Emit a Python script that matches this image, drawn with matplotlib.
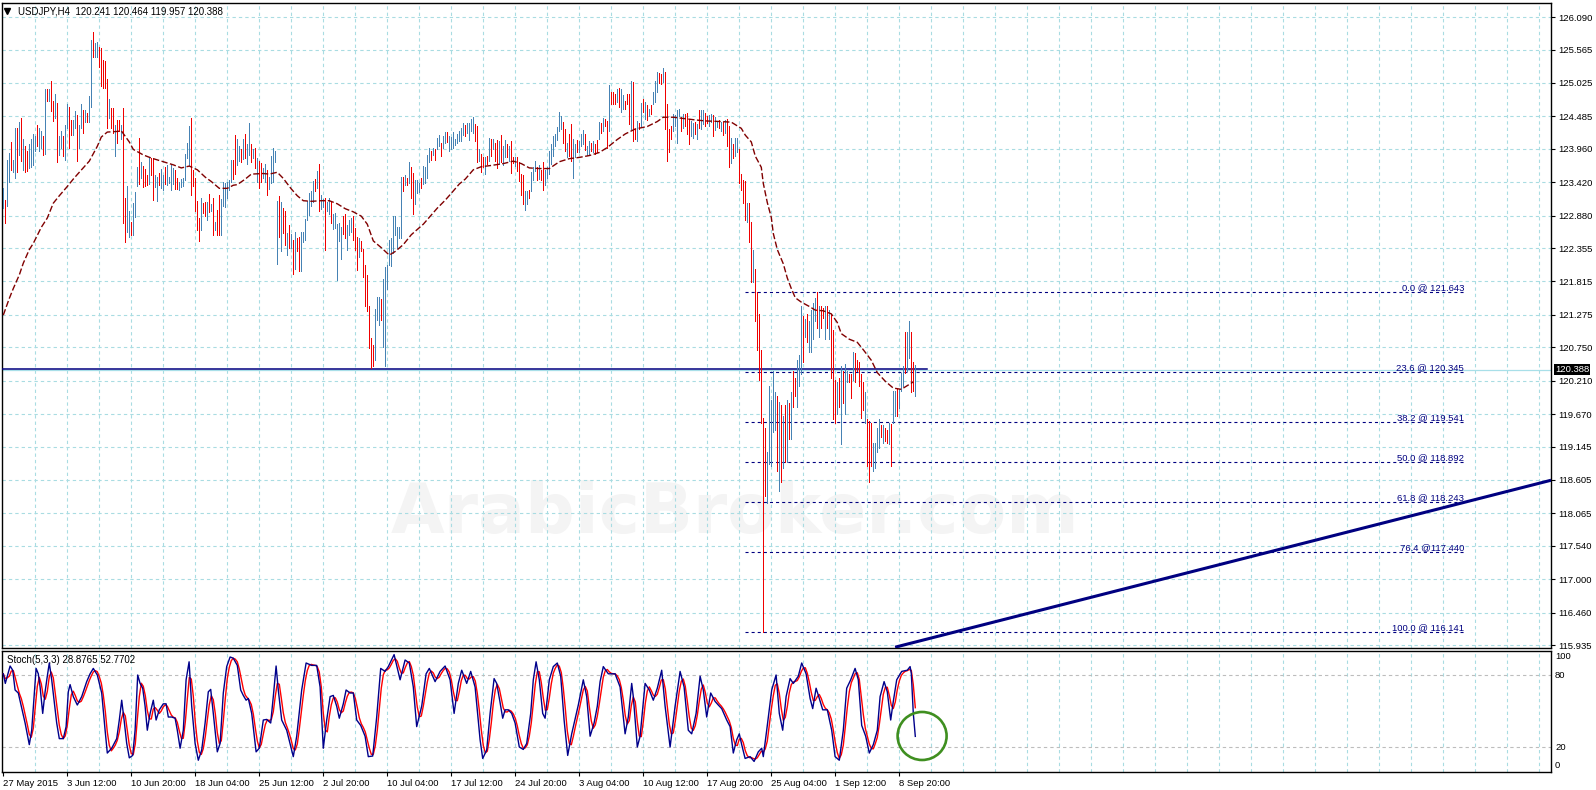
import numpy as np
import pandas as pd
import matplotlib
matplotlib.use('Agg')
import matplotlib.pyplot as plt
from matplotlib.patches import Ellipse

# ---- USDJPY H4 bars (high / low / up-bar flag) ----
bar_high = [
    123.32, 123.13, 123.78, 123.89, 124.07, 123.78, 124.30, 124.30, 124.39, 124.46,
    124.12, 124.00, 123.92, 124.04, 124.11, 124.20, 124.16, 124.35, 124.30, 124.25,
    124.16, 124.93, 124.92, 124.93, 125.06, 124.73, 124.84, 124.70, 124.16, 124.25,
    124.16, 124.35, 124.69, 124.63, 124.43, 124.43, 124.57, 124.51, 124.35, 124.69,
    124.59, 124.59, 124.54, 124.82, 125.72, 125.85, 125.67, 125.69, 125.60, 125.59,
    125.39, 125.38, 125.09, 124.76, 124.62, 124.62, 124.35, 124.43, 124.43, 124.34,
    124.62, 123.16, 123.35, 122.95, 122.77, 123.08, 123.26, 123.66, 124.13, 123.75,
    123.68, 123.64, 123.54, 123.82, 123.81, 123.81, 123.54, 123.50, 123.57, 123.64,
    123.53, 123.66, 123.69, 123.50, 123.69, 123.65, 123.61, 123.49, 123.43, 123.47,
    123.49, 123.87, 124.05, 124.32, 124.45, 123.62, 123.49, 123.11, 122.84, 123.16,
    123.08, 123.10, 123.10, 123.23, 123.06, 123.16, 122.77, 122.97, 123.22, 123.14,
    123.43, 123.40, 123.43, 123.46, 123.78, 123.78,
    124.19, 124.12, 124.00, 123.96, 124.11, 124.20, 124.03, 124.38, 124.04, 123.95,
    123.97, 123.81, 123.77, 123.73, 123.65, 123.71, 123.62, 123.50, 123.84, 123.98,
    123.93, 123.12, 123.19, 123.10, 123.01, 122.95, 122.60, 122.72, 122.58, 122.49,
    122.61, 122.51, 122.54, 122.62, 122.61, 122.83, 123.12, 123.24, 123.27, 123.44,
    123.47, 123.60, 123.71, 123.21, 123.14, 123.17, 123.10, 123.16, 123.12, 122.90,
    122.92, 122.74, 122.76, 122.70, 122.87, 122.90, 122.72, 122.81, 122.84, 122.88,
    122.68, 122.54, 122.51, 122.47, 122.34, 122.08, 121.92, 121.41, 120.90, 120.78,
    121.37, 121.57, 121.57, 121.53, 121.86, 122.05, 122.08, 122.49, 122.51, 122.87,
    122.88, 122.70, 122.70, 123.50, 123.50, 123.54, 123.49, 123.75, 123.66, 123.57,
    123.46, 123.45, 123.41, 123.49, 123.68, 123.66, 123.86, 123.98, 123.92, 123.98,
    123.95, 124.13, 124.18, 124.05, 124.16, 124.23, 124.23, 124.16, 124.15, 124.23,
    124.12, 124.20, 124.24, 124.30, 124.38,
    124.34, 124.37, 124.37, 124.44, 124.47, 124.36, 124.33, 123.96, 123.87, 123.83,
    123.82, 123.85, 124.14, 124.11, 124.12, 124.05, 124.10, 124.09, 124.18, 124.00,
    124.10, 124.03, 124.00, 124.09, 123.82, 123.82, 123.83, 123.74, 123.55, 123.53,
    123.27, 123.27, 123.29, 123.59, 123.67, 123.76, 123.67, 123.69, 123.62, 123.74,
    123.62, 123.67, 123.92, 124.03, 124.17, 124.20, 124.31, 124.56, 124.49, 124.39,
    124.28, 124.05, 124.20, 124.36, 124.11, 124.03, 124.10, 124.09, 124.20, 124.27,
    124.20, 124.01, 124.09, 124.05, 124.09, 124.03, 124.10, 124.40, 124.37, 124.45,
    124.44, 124.41, 124.99, 124.88, 124.87, 124.85, 124.92, 124.94, 124.93, 124.83,
    124.74, 124.85, 124.85, 125.05, 125.04, 124.28, 124.41, 124.37, 124.70, 124.77,
    124.71, 124.66, 124.61, 124.67, 124.88, 125.06, 125.20, 125.19, 125.17, 125.26,
    125.20, 124.68, 124.28, 124.33, 124.52, 124.50, 124.59, 124.60, 124.47, 124.52,
    124.52, 124.54, 124.44, 124.41, 124.37, 124.40, 124.36, 124.58, 124.58, 124.58,
    124.54, 124.49,
    124.50, 124.52, 124.50, 124.47, 124.40, 124.42, 124.40, 124.39, 124.42, 124.44,
    124.33, 124.13, 124.04, 124.13, 124.14, 123.95, 123.55, 123.46, 123.44, 123.09,
    123.09, 122.77, 122.33, 122.01, 121.64, 121.29, 120.71, 119.61, 119.44, 119.06,
    120.13, 119.90, 120.37, 120.02, 119.96, 119.87, 119.82, 119.64, 119.82, 119.90,
    119.85, 120.02, 120.37, 120.25, 120.54, 120.63, 121.41, 121.26, 121.20, 121.29,
    121.18, 121.35, 121.46, 121.55, 121.64, 121.41, 121.42, 121.38, 121.42, 121.41,
    121.35, 121.29, 121.03, 120.22, 120.19, 120.25, 120.45, 120.37, 120.48, 120.37,
    120.31, 120.31, 120.68, 120.66, 120.54, 120.51, 120.31, 120.19, 120.02, 119.59,
    119.56, 119.53, 119.21, 119.21, 119.44, 119.59, 119.50, 119.50, 119.44, 119.41,
    119.53, 119.51, 120.05, 120.05, 120.08, 120.08, 120.34, 120.45, 121.00, 121.00,
    121.18, 121.00, 120.51, 120.464,
]
bar_low = [
    123.00, 122.76, 123.03, 123.43, 123.62, 123.59, 123.49, 123.59, 123.86, 123.76,
    123.62, 123.59, 123.60, 123.65, 123.67, 123.70, 123.92, 124.00, 123.93, 123.97,
    123.86, 123.87, 124.73, 124.73, 124.57, 124.41, 124.46, 123.75, 123.86, 123.97,
    123.85, 123.78, 124.30, 123.98, 124.18, 124.19, 124.30, 123.77, 123.97, 124.30,
    124.22, 124.40, 124.39, 124.40, 124.63, 125.44, 125.44, 125.44, 125.28, 124.97,
    124.94, 124.94, 124.30, 124.46, 124.30, 124.22, 123.85, 124.05, 124.24, 124.11,
    122.76, 122.46, 122.62, 122.54, 122.57, 122.57, 122.85, 123.35, 123.39, 123.48,
    123.34, 123.35, 123.38, 123.39, 123.54, 123.13, 123.34, 123.12, 123.38, 123.33,
    123.30, 123.39, 123.38, 123.41, 123.30, 123.39, 123.31, 123.31, 123.30, 123.34,
    123.35, 123.46, 123.81, 123.70, 123.22, 123.35, 122.95, 122.65, 122.47, 122.65,
    122.92, 122.87, 122.81, 122.94, 122.95, 122.56, 122.65, 122.57, 122.56, 122.57,
    123.03, 123.02, 123.16, 123.30, 123.43, 123.47,
    123.55, 123.70, 123.77, 123.75, 123.80, 123.81, 123.71, 123.86, 123.75, 123.81,
    123.65, 123.43, 123.32, 123.42, 123.49, 123.42, 123.22, 123.31, 123.41, 123.43,
    123.75, 122.09, 122.54, 122.31, 122.60, 122.40, 122.25, 122.35, 122.36, 121.93,
    122.02, 122.30, 121.98, 121.99, 122.45, 122.49, 122.80, 122.89, 123.03, 123.10,
    123.27, 123.32, 122.96, 122.98, 123.02, 122.33, 122.96, 122.90, 122.76, 122.67,
    122.68, 121.84, 122.47, 122.18, 122.58, 122.52, 122.33, 122.57, 122.62, 122.49,
    122.33, 122.00, 122.21, 122.31, 121.89, 121.41, 121.33, 120.74, 120.42, 120.45,
    120.55, 121.19, 121.11, 121.19, 120.75, 120.45, 121.70, 122.08, 122.07, 122.28,
    122.57, 122.36, 122.52, 122.52, 123.28, 123.38, 123.38, 123.41, 123.16, 122.90,
    123.06, 123.25, 123.26, 123.33, 123.39, 123.41, 123.48, 123.75, 123.78, 123.86,
    123.78, 123.95, 124.00, 123.85, 123.98, 124.05, 124.07, 123.92, 123.95, 123.97,
    124.02, 124.05, 124.09, 124.08, 124.18,
    124.16, 124.22, 124.10, 124.25, 124.22, 124.09, 123.74, 123.76, 123.59, 123.67,
    123.55, 123.71, 123.76, 123.84, 123.95, 123.76, 123.65, 123.71, 123.74, 123.69,
    123.82, 123.82, 123.76, 123.57, 123.73, 123.68, 123.60, 123.44, 123.22, 123.06,
    122.97, 123.07, 123.17, 123.28, 123.46, 123.60, 123.45, 123.47, 123.46, 123.30,
    123.38, 123.49, 123.55, 123.71, 123.84, 124.01, 124.10, 124.25, 124.28, 124.05,
    123.93, 123.82, 123.85, 123.76, 123.49, 123.83, 123.90, 123.91, 124.00, 124.03,
    123.94, 123.86, 123.87, 123.93, 123.90, 123.87, 123.91, 124.12, 124.22, 124.25,
    124.32, 123.98, 124.25, 124.68, 124.69, 124.68, 124.72, 124.63, 124.55, 124.60,
    124.61, 124.68, 124.36, 124.28, 124.09, 124.12, 124.09, 124.28, 124.32, 124.55,
    124.44, 124.43, 124.49, 124.52, 124.68, 124.71, 124.88, 125.03, 125.01, 125.04,
    124.28, 123.76, 123.90, 124.12, 124.25, 124.33, 124.06, 124.49, 124.24, 124.30,
    124.32, 124.20, 124.03, 124.16, 124.14, 124.20, 124.12, 124.30, 124.28, 124.36,
    124.33, 124.37,
    124.33, 124.39, 124.16, 124.27, 124.31, 124.30, 124.24, 124.18, 124.21, 124.01,
    123.66, 123.73, 123.81, 123.84, 123.90, 123.40, 123.29, 123.09, 122.80, 122.77,
    122.45, 121.81, 121.81, 121.18, 120.71, 120.22, 119.53, 116.14, 118.34, 118.23,
    118.86, 118.83, 119.38, 119.41, 118.75, 118.43, 118.57, 118.80, 118.89, 118.89,
    119.27, 119.27, 119.79, 119.96, 119.79, 120.13, 120.31, 120.51, 120.92, 120.83,
    120.68, 120.68, 120.89, 121.18, 121.06, 120.92, 121.06, 121.23, 120.89, 121.06,
    120.89, 120.25, 119.59, 119.53, 119.67, 119.79, 119.18, 119.85, 119.67, 120.19,
    120.19, 119.93, 120.22, 120.19, 120.37, 120.13, 119.61, 119.73, 119.53, 118.83,
    118.57, 118.83, 118.75, 118.80, 119.06, 119.12, 119.30, 119.21, 119.24, 119.21,
    119.18, 118.83, 119.53, 119.64, 119.64, 119.76, 120.05, 120.13, 120.34, 120.37,
    120.57, 120.02, 120.05, 119.957,
]
bar_up = [
    1, 0, 1, 1, 0, 1, 1, 0, 1, 0, 1, 0, 0, 1, 1, 1, 1, 0, 1, 1,
    0, 1, 0, 1, 0, 0, 1, 0, 1, 1, 0, 1, 1, 0, 0, 1, 1, 0, 1, 1,
    0, 1, 0, 1, 1, 0, 1, 1, 0, 0, 0, 0, 0, 1, 0, 0, 1, 0, 0, 1,
    0, 0, 1, 1, 0, 1, 1, 1, 0, 1, 0, 0, 0, 1, 0, 0, 1, 1, 0, 1,
    1, 0, 1, 1, 1, 1, 0, 0, 1, 1, 1, 1, 1, 1, 0, 0, 0, 0, 0, 1,
    0, 0, 1, 0, 1, 0, 1, 0, 0, 1, 1, 1, 1, 1, 1, 0,
    0, 1, 1, 0, 1, 0, 1, 1, 0, 1, 0, 1, 0, 0, 1, 1, 0, 1, 1, 1,
    1, 1, 0, 1, 0, 0, 1, 0, 1, 0, 1, 0, 0, 1, 1, 1, 1, 1, 1, 1,
    0, 1, 0, 1, 1, 0, 1, 1, 0, 1, 1, 1, 1, 1, 0, 0, 1, 1, 1, 0,
    0, 0, 1, 0, 0, 0, 0, 0, 0, 0, 1, 1, 1, 0, 1, 1, 1, 1, 1, 1,
    1, 1, 1, 1, 0, 1, 0, 1, 0, 0, 1, 1, 1, 0, 1, 1, 1, 1, 0, 1,
    0, 1, 1, 0, 1, 1, 0, 1, 1, 1, 1, 1, 1, 1, 1,
    0, 1, 1, 1, 1, 0, 0, 1, 0, 0, 1, 0, 1, 0, 1, 0, 0, 1, 0, 1,
    1, 0, 1, 0, 0, 1, 0, 0, 0, 0, 1, 1, 0, 1, 1, 1, 0, 1, 0, 0,
    1, 1, 1, 1, 1, 1, 1, 1, 1, 0, 0, 1, 0, 0, 1, 1, 0, 1, 1, 1,
    0, 1, 1, 0, 1, 0, 0, 1, 0, 1, 0, 0, 1, 0, 0, 0, 1, 0, 1, 1,
    0, 0, 0, 1, 0, 0, 1, 0, 1, 0, 1, 0, 1, 0, 1, 1, 1, 0, 0, 1,
    0, 0, 0, 0, 1, 1, 1, 1, 0, 1, 0, 0, 0, 1, 1, 0, 1, 0, 1, 1,
    0, 0,
    1, 1, 0, 1, 1, 0, 1, 0, 1, 0, 0, 1, 0, 1, 1, 0, 0, 0, 0, 1,
    0, 0, 1, 0, 0, 0, 0, 0, 0, 1, 1, 1, 1, 1, 0, 1, 0, 1, 0, 1,
    0, 1, 0, 0, 1, 1, 1, 0, 1, 0, 1, 1, 1, 1, 0, 1, 0, 0, 1, 0,
    1, 0, 0, 0, 1, 0, 1, 0, 1, 1, 0, 0, 1, 0, 0, 0, 0, 0, 1, 0,
    0, 0, 1, 1, 1, 1, 0, 1, 0, 0, 1, 0, 1, 1, 0, 1, 1, 1, 0, 1,
    1, 0, 0, 1,
]

# moving average (bar index, price)
ma_pts = [
    (0, 121.27), (3, 121.54), (5, 121.70), (8, 121.92), (10, 122.11), (13, 122.33),
    (15, 122.43), (19, 122.69), (22, 122.84), (25, 123.08), (28, 123.20), (32, 123.35),
    (35, 123.47), (38, 123.58), (43, 123.76), (47, 124.00), (49, 124.15), (52, 124.23),
    (57, 124.24), (59, 124.25), (61, 124.16), (63, 124.07), (65, 123.95), (70, 123.86),
    (74, 123.81), (77, 123.78), (80, 123.75), (85, 123.70), (89, 123.65), (93, 123.68),
    (97, 123.62), (101, 123.50), (104, 123.43), (108, 123.32), (112, 123.32), (115, 123.37),
    (117, 123.38), (121, 123.47), (124, 123.55), (130, 123.56), (133, 123.55), (137, 123.58),
    (140, 123.48), (144, 123.31), (147, 123.20), (150, 123.12), (154, 123.11), (159, 123.12),
    (163, 123.12), (167, 123.07), (171, 122.99), (175, 122.94), (179, 122.87), (182, 122.74),
    (185, 122.47), (189, 122.36), (193, 122.24), (196, 122.30), (200, 122.41), (204, 122.57),
    (210, 122.74), (217, 123.00), (221, 123.13), (224, 123.24), (228, 123.39), (231, 123.47),
    (235, 123.62), (239, 123.67), (244, 123.69), (250, 123.72), (255, 123.76), (259, 123.72),
    (263, 123.65), (268, 123.64), (273, 123.64), (278, 123.75), (283, 123.80), (288, 123.82),
    (293, 123.85), (298, 123.90), (302, 123.98), (307, 124.11), (311, 124.20), (316, 124.28),
    (322, 124.32), (327, 124.40), (330, 124.47), (335, 124.47), (340, 124.45), (345, 124.43),
    (351, 124.41), (359, 124.40), (364, 124.39), (369, 124.29), (371, 124.18), (374, 124.07),
    (376, 123.84), (379, 123.66), (380, 123.40), (382, 123.09), (384, 122.85), (385, 122.59),
    (387, 122.33), (390, 122.10), (392, 121.87), (394, 121.70), (396, 121.55), (399, 121.48),
    (403, 121.41), (406, 121.35), (410, 121.34), (414, 121.29), (417, 121.15), (419, 120.97),
    (423, 120.88), (427, 120.83), (430, 120.71), (434, 120.54), (437, 120.34), (441, 120.20),
    (445, 120.09), (449, 120.07), (452, 120.13), (455, 120.19),
]

# Stoch(5,3,3) main line (bar index, value)
stoch_k_pts = [
    (0, 81), (1, 73), (2, 79), (3.4, 87.5), (4.7, 84), (5.9, 67.5), (7.5, 65), (10.9, 40),
    (13, 22), (14.2, 34), (16.4, 85.5), (17.5, 81), (18.4, 70), (19.7, 48), (20.9, 66),
    (22, 79), (23, 90), (24.2, 76), (25.4, 59), (26.7, 40), (28, 27), (30, 27), (31.4, 37),
    (32.5, 66), (33.4, 72), (35, 62), (37, 55), (39.2, 62), (41.7, 74.5), (43.4, 81),
    (45, 85.5), (47, 80), (49.2, 65), (50.9, 34), (52, 15), (54.2, 19), (56.7, 27),
    (58, 42.5), (59.2, 59), (60.4, 42.5), (61.7, 23), (63, 11), (64.7, 13), (65.9, 34),
    (67.2, 80), (68.4, 73), (69.7, 69), (70.9, 54), (72, 34), (73.4, 48), (75, 59),
    (76.4, 42.5), (78, 51), (80, 56), (81.4, 56), (82.5, 45), (84.2, 45), (85.9, 44),
    (87, 34), (88.4, 19), (90, 34), (91.4, 76), (92.9, 91), (94.2, 54), (95.9, 23),
    (97.5, 9), (99.2, 17.5), (100.9, 40), (102.5, 66), (103.7, 68), (105, 48), (107, 16),
    (108.4, 23), (110, 65), (111.7, 87), (113.4, 95), (115, 94), (117, 88), (118.7, 67.5),
    (120, 63), (121.4, 59), (122.5, 60.5), (124.2, 48), (126.4, 16), (128, 19), (130, 42.5),
    (131.7, 43), (133.7, 40), (135, 62), (136.4, 87.5), (137.5, 67.5), (139.2, 42.5),
    (141.7, 34), (145, 12), (146.7, 29), (149.2, 67.5), (151.4, 90), (154.2, 88),
    (156.7, 88), (158.4, 70), (160, 19), (161.7, 42.5), (163.4, 62), (165, 63), (166.7, 54),
    (168, 44), (170, 56), (171.4, 67.5), (173.4, 65), (175, 65), (176.7, 42.5), (178.7, 38),
    (180.9, 29), (182.5, 12), (184.7, 12.5), (186.7, 45), (188.7, 85.5), (190.9, 83),
    (192.5, 87), (195.4, 97), (198.4, 76), (200.9, 92.5), (203, 90), (205, 70), (206.7, 37),
    (209.2, 54), (211.4, 81), (213, 85.5), (215.9, 74.5), (218.4, 83), (220.9, 87.5),
    (223.4, 76), (225.4, 48), (227.5, 73), (229.2, 84), (231.7, 73), (233.7, 83), (235.9, 70),
    (238.4, 26), (239.7, 10.5), (241.7, 17.5), (243.4, 48), (245.4, 77), (246.7, 73),
    (248.3, 58), (249.7, 44), (250.9, 51), (252.5, 51), (254.2, 48), (255.9, 40), (258, 20),
    (260, 18), (261.7, 23), (263.7, 48), (265, 76), (266.4, 91), (268, 76), (269.7, 48),
    (270.9, 44), (273, 76), (275, 87), (277, 90), (278.7, 79), (280.4, 42.5), (282.2, 13),
    (284.2, 31), (287.5, 55), (290, 76), (291.7, 62), (293.4, 29), (295.4, 40), (297, 54),
    (298.4, 74.5), (300, 87), (302.5, 81), (305.9, 81), (308.4, 70), (310.9, 31),
    (312.5, 45), (314.2, 73), (315, 62), (317, 20), (318.4, 29), (320.9, 73), (323, 67.5),
    (325, 59), (327, 69), (329.2, 84), (330.9, 54), (333.4, 20), (335.9, 54), (338.4, 83),
    (340.4, 70), (342.5, 34), (344.2, 31), (346.4, 48), (348.4, 79), (350, 67.5),
    (351.7, 45), (353.7, 65), (355.9, 58), (357.5, 55), (359.2, 52), (361.7, 42.5),
    (363.4, 37), (365, 15), (366.7, 26), (368, 31), (369.2, 22), (370.9, 10.5), (373.4, 12),
    (375.4, 8), (377.5, 16), (379.2, 19), (380, 12), (381.7, 34), (384.2, 67.5), (386.4, 80),
    (388, 48), (389.7, 34), (391.4, 62), (393.4, 77), (395, 73), (397.5, 79), (399.2, 90),
    (401.4, 81), (403.4, 60.5), (404.7, 52), (406.4, 69), (408, 60.5), (409.7, 51),
    (412, 51), (414.2, 34), (415.9, 12), (418, 9), (420, 34), (421.7, 69), (423.7, 76),
    (425.9, 85.5), (427.5, 76), (429.2, 38), (431.2, 29), (433, 15), (435, 22), (437, 34),
    (438.4, 62), (440.4, 74.5), (442, 66), (443.7, 42.5), (445, 58), (446.7, 76),
    (449.2, 83), (452, 84), (453.4, 87), (454, 81.4), (455, 48), (456, 28.88),
]

fib_prices = [121.643, 120.345, 119.541, 118.892, 118.243, 117.440, 116.141]
fib_labels = ['0.0 @ 121.643', '23.6 @ 120.345', '38.2 @ 119.541', '50.0 @ 118.892',
              '61.8 @ 118.243', '76.4 @117.440', '100.0 @ 116.141']
fib_span = [370.9, 730.4]

hline_price = 120.40
hline_span = [-1, 461.9]
bid_price = 120.388
trend_bars = [445.9, 773.9]
trend_prices = [115.90, 118.60]

price_ticks = [126.090, 125.565, 125.025, 124.485, 123.960, 123.420, 122.880, 122.355,
               121.815, 121.275, 120.750, 120.210, 119.670, 119.145, 118.605, 118.065,
               117.540, 117.000, 116.460, 115.935]
time_labels = ['27 May 2015', '3 Jun 12:00', '10 Jun 20:00', '18 Jun 04:00', '25 Jun 12:00',
               '2 Jul 20:00', '10 Jul 04:00', '17 Jul 12:00', '24 Jul 20:00', '3 Aug 04:00',
               '10 Aug 12:00', '17 Aug 20:00', '25 Aug 04:00', '1 Sep 12:00', '8 Sep 20:00']

# ---- figure ----
plt.rcParams['font.family'] = ['Liberation Sans', 'DejaVu Sans']
plt.rcParams['lines.scale_dashes'] = False

W, H = 1596, 790
fig = plt.figure(figsize=(W / 100, H / 100), dpi=100)
fig.patch.set_facecolor('white')


def px_box(x0, y0, x1, y1):
    return [x0 / W, 1 - y1 / H, (x1 - x0) / W, (y1 - y0) / H]


ax = fig.add_axes(px_box(2, 3, 1551, 648))
ax_st = fig.add_axes(px_box(2, 651, 1551, 772))

grid_col = '#a9dce2'
grid_ls = (0, (2.4, 2.2))
xlim = (-0.65, 773.85)
fs = 6.8

for a in (ax, ax_st):
    a.set_xlim(*xlim)
    for s in a.spines.values():
        s.set_color('black')
        s.set_linewidth(1.0)
    for gx in range(16, 774, 16):
        a.axvline(gx, color=grid_col, lw=0.8, ls=grid_ls, zorder=0.5)

ax.set_ylim(115.887, 126.317)
for p in price_ticks:
    ax.axhline(p, color=grid_col, lw=0.8, ls=grid_ls, zorder=0.5)

# watermark
ax.text(0.473, 0.208, 'ArabicBroker.com', transform=ax.transAxes, fontsize=50,
        fontweight='bold', family='DejaVu Sans', color='#f4f4f4',
        ha='center', va='center', zorder=0.2)

# bid line and horizontal level
ax.axhline(bid_price, color='#a8dfe8', lw=0.9, zorder=1)
ax.plot(hline_span, [hline_price, hline_price], color='#000080', lw=1.1, zorder=3)

# bars
hi = np.array(bar_high)
lo = np.array(bar_low)
up = np.array(bar_up, dtype=bool)
idx = np.arange(len(hi))
ax.vlines(idx[up], lo[up], hi[up], color='#4682b4', lw=0.7, antialiased=False, zorder=4)
ax.vlines(idx[~up], lo[~up], hi[~up], color='#f00000', lw=0.7, antialiased=False, zorder=4)

# moving average
ma = np.array(ma_pts)
ax.plot(ma[:, 0], ma[:, 1], color='#800000', lw=1.0, ls=(0, (4.5, 1.8)), zorder=5)

# fibonacci retracement
for p, lab in zip(fib_prices, fib_labels):
    ax.plot(fib_span, [p, p], color='#000080', lw=0.8, ls=(0, (2.2, 2.2)), zorder=3)
    ax.text(fib_span[1], p, lab, ha='right', va='bottom', fontsize=fs, color='#000080',
            zorder=6)

# trend line
ax.plot(trend_bars, trend_prices, color='#000080', lw=2.2, solid_capstyle='butt', zorder=6)

# price axis
ax.set_yticks(price_ticks)
ax.set_yticklabels(['%.3f' % p for p in price_ticks])
ax.yaxis.tick_right()
ax.tick_params(axis='y', length=3, width=0.8, pad=2, labelsize=fs, colors='black')
ax.tick_params(axis='x', bottom=False, labelbottom=False)
ax.text(1 + 4 / 1549, bid_price, '%.3f' % bid_price, transform=ax.get_yaxis_transform(),
        fontsize=fs, color='white', va='center', ha='left', zorder=10,
        bbox=dict(boxstyle='square,pad=0.12', fc='black', ec='none'))

# title
ax.plot([5 / 1549], [(648 - 11) / 645], marker='v', ms=4, color='black',
        transform=ax.transAxes, clip_on=False)
fig.text(18 / W, 1 - 11 / H, 'USDJPY,H4  120.241 120.464 119.957 120.388',
         fontsize=7, va='center', ha='left')

# ---- stochastic panel ----
ax_st.set_ylim(-0.8, 100)
for lv in (80, 20):
    ax_st.axhline(lv, color='#bdbdbd', lw=0.8, ls=grid_ls, zorder=0.5)

k = np.array(stoch_k_pts)
kb = np.arange(len(hi))
k_bar = np.interp(kb, k[:, 0], k[:, 1])
d_line = pd.Series(k_bar).rolling(3, min_periods=1).mean()
ax_st.plot(kb, d_line, color='#ff0000', lw=1.0, zorder=3)
ax_st.plot(k[:, 0], k[:, 1], color='#00008b', lw=1.0, zorder=4)

ax_st.add_patch(Ellipse((459.4, 29.2), 24.5, 40, fill=False, ec='#3f8f20', lw=1.9, zorder=5))

ax_st.text(5 / 1549, 0.926, 'Stoch(5,3,3) 28.8765 52.7702', transform=ax_st.transAxes,
           fontsize=7, va='center', ha='left')
for v, s in ((95.2, '100'), (80, '80'), (20, '20'), (4.4, '0')):
    ax_st.text(1 + 4 / 1549, v, s, transform=ax_st.get_yaxis_transform(), fontsize=fs,
               va='center', ha='left')

ax_st.set_yticks([])
ax_st.set_xticks(np.arange(0, 449, 32))
ax_st.set_xticklabels(time_labels, ha='left', fontsize=fs)
ax_st.tick_params(axis='x', length=3, width=0.8, pad=2, colors='black')

fig.savefig('out.png', dpi=100, facecolor='white')
